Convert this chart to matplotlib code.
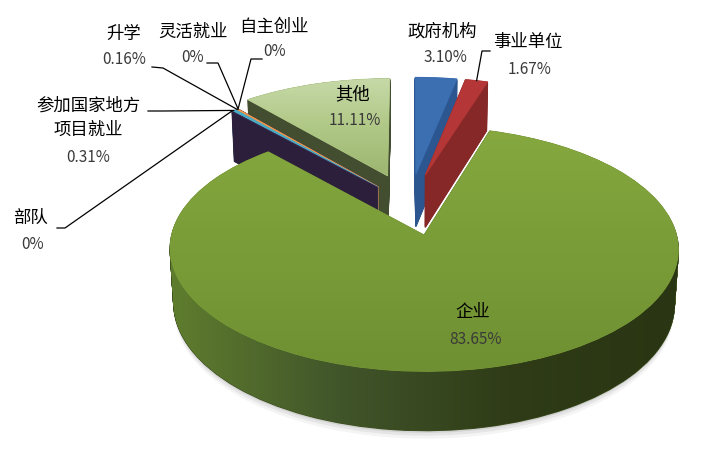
import numpy as np
import matplotlib
matplotlib.use('Agg')
import matplotlib.pyplot as plt
from matplotlib.transforms import Transform
from matplotlib.path import Path
from matplotlib.colors import LinearSegmentedColormap

plt.rcParams['font.family'] = ['Noto Sans CJK SC', 'DejaVu Sans']

# chart data
categories = ['政府机构', '事业单位', '企业', '部队', '参加国家地方\n项目就业',
              '升学', '灵活就业', '自主创业', '其他']
shares = [3.10, 1.67, 83.65, 0.0, 0.31, 0.16, 0.0, 0.0, 11.11]
pct_labels = ['3.10%', '1.67%', '83.65%', '0%', '0.31%', '0.16%', '0%', '0%', '11.11%']

top_colors = ['#3b6fb2', '#b53636', '#7b9d38', '#3a2a52', '#4bacc6',
              '#f79646', '#2c4d75', '#772c2a', '#b2ca88']
side_colors = ['#2b5690', '#862828', '#3f5220', '#2c1f3b', '#3b8da3',
               '#c8742f', '#1f3654', '#561f1e', '#434d30']

# back-to-front drawing order
draw_order = [8, 7, 6, 5, 4, 3, 0, 1, 2]

# label layout (pixel positions of name / percent text)
name_pos = {0: (442, 32), 1: (528, 42), 2: (473, 312), 3: (31, 218), 4: (88, 118),
            5: (124, 34), 6: (193, 32), 7: (274, 27), 8: (353, 94)}
pct_pos = {0: (445, 58), 1: (530, 69), 2: (475, 339), 3: (33, 244), 4: (88, 157),
           5: (124, 59), 6: (193, 57), 7: (275, 52), 8: (355, 120)}
leader_pts = {1: [(490, 51), (482, 51)], 3: [(57, 228), (65, 228)],
              4: [(148, 111), (163, 111)], 5: [(152, 67), (163, 68)],
              6: [(207, 63), (218, 63)], 7: [(262, 59), (251, 59)]}

# 3d view
explode = [0.27, 0.27, 0.27, 0.2, 0.2, 0.2, 0.2, 0.2, 0.27]
DEPTH = 0.25
DIST = 8.0
ELEV = np.radians(27.7)
SCALE = 245.0
CX, CY = 409.6, 204.0
N_LAYERS = 90


class Persp(Transform):
    input_dims = 2
    output_dims = 2
    is_separable = False
    has_inverse = False

    def __init__(self, z):
        super().__init__()
        self.z = z

    def transform_non_affine(self, values):
        v = np.asarray(values, dtype=float).reshape(-1, 2)
        x, y = v[:, 0], v[:, 1]
        dist = DIST + y * np.cos(ELEV) - self.z * np.sin(ELEV)
        up = y * np.sin(ELEV) + self.z * np.cos(ELEV)
        k = DIST / dist
        return np.column_stack([CX + SCALE * x * k, CY - SCALE * up * k])


def gradient_fill(ax, path, colors, zorder, horizontal=True):
    ext = path.get_extents()
    cmap = LinearSegmentedColormap.from_list('g', colors)
    g = np.linspace(0, 1, 256)
    arr = g[None, :] if horizontal else g[:, None]
    im = ax.imshow(arr, cmap=cmap, extent=(ext.x0, ext.x1, ext.y1, ext.y0),
                   aspect='auto', interpolation='bilinear', zorder=zorder)
    im.set_clip_path(path, ax.transData)


fig = plt.figure(figsize=(7.13, 4.61), dpi=100)
ax = fig.add_axes([0, 0, 1, 1])
rank = {s: r for r, s in enumerate(draw_order)}

# soft shadow under the big slice
for j, (dz, a) in enumerate([(0.035, 0.10), (0.022, 0.16), (0.01, 0.25)]):
    sh, _ = ax.pie(shares, explode=explode, startangle=90,
                   counterclock=False, radius=1.0)
    for i, w in enumerate(sh):
        w.set_transform(Persp(-DEPTH - dz) + ax.transData)
        w.set_facecolor('#9a9a9a' if i == 2 else 'none')
        w.set_edgecolor('none')
        w.set_alpha(a)
        w.set_zorder(-10 + j)

zs = np.linspace(-DEPTH, 0, N_LAYERS, endpoint=False)
wall_paths = {i: [] for i in range(len(shares))}
for k, z in enumerate(zs):
    wedges, _ = ax.pie(shares, explode=explode, startangle=90,
                       counterclock=False, radius=1)
    for i, w in enumerate(wedges):
        w.set_transform(Persp(z) + ax.transData)
        w.set_facecolor(side_colors[i])
        w.set_edgecolor(side_colors[i])
        w.set_linewidth(1.0)
        w.set_zorder(rank[i] * 100 + k * 0.5)
        wall_paths[i].append(Persp(z).transform_path(w.get_path()))

tops, _ = ax.pie(shares, explode=explode, startangle=90,
                 counterclock=False, radius=1)
for i, w in enumerate(tops):
    w.set_transform(Persp(0) + ax.transData)
    w.set_facecolor(top_colors[i])
    w.set_edgecolor(top_colors[i])
    w.set_linewidth(0.6)
    w.set_zorder(rank[i] * 100 + 70)

# shading on the big slices
comp = Path.make_compound_path(*wall_paths[2])
gradient_fill(ax, comp, ['#5f7d2e', '#41552a', '#2f3c17', '#2a3513'], rank[2] * 100 + 60)
gradient_fill(ax, Persp(0).transform_path(tops[2].get_path()),
              ['#86a83f', '#7a9c38', '#6f9032'], rank[2] * 100 + 80, horizontal=False)
gradient_fill(ax, Persp(0).transform_path(tops[8].get_path()),
              ['#c6d9a8', '#b0c886', '#9cb670'], rank[8] * 100 + 80, horizontal=False)


# anchor for leader lines: rim midpoint of each slice
def rim_mid(w):
    t = np.radians((w.theta1 + w.theta2) / 2)
    cx, cy = w.center
    return Persp(0).transform(np.array([[cx + w.r * np.cos(t), cy + w.r * np.sin(t)]]))[0]


for i, pts in leader_pts.items():
    ax_, ay_ = rim_mid(tops[i])
    xs = [p[0] for p in pts] + [ax_]
    ys = [p[1] for p in pts] + [ay_]
    ax.plot(xs, ys, color='#000000', lw=0.9, zorder=2000)

for i in range(len(shares)):
    nx, ny = name_pos[i]
    ax.text(nx, ny, categories[i], ha='center', va='center', fontsize=12.5,
            color='black', linespacing=1.45, zorder=2100)
    px, py = pct_pos[i]
    ax.text(px, py, pct_labels[i], ha='center', va='center', fontsize=11,
            color='#3a3a3a', zorder=2100)

ax.set_autoscale_on(False)
ax.set_xlim(0, 713)
ax.set_ylim(461, 0)
ax.set_aspect('auto')
ax.axis('off')
fig.savefig('out.png', dpi=100)
